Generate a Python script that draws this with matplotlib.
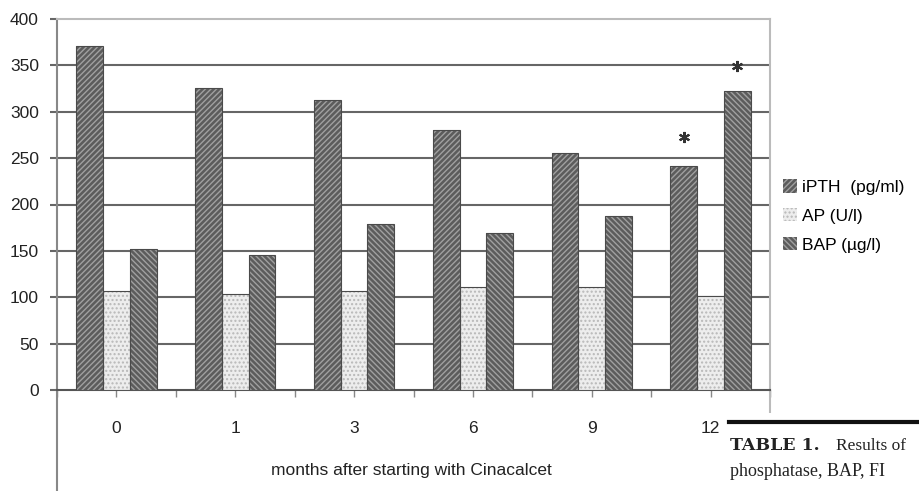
import numpy as np
import matplotlib
matplotlib.use("Agg")
import matplotlib.pyplot as plt
from matplotlib.patches import Rectangle
from matplotlib.lines import Line2D

plt.rcParams['font.family'] = ['Liberation Sans', 'DejaVu Sans']
plt.rcParams['hatch.linewidth'] = 1.0

months = ['0', '1', '3', '6', '9', '12']
ipth = [371, 326, 313, 280, 255, 241]
ap = [107, 103, 107, 111, 111, 101]
bap = [152, 146, 179, 169, 188, 322]
series_names = ['iPTH  (pg/ml)', 'AP (U/l)', 'BAP (µg/l)']
# significance markers: (group index, series offset, height)
stars = [(5, -1, 273), (5, 1, 349)]

fig = plt.figure(figsize=(9.19, 4.91), dpi=100)
W, H = 919, 491
ax = fig.add_axes([57 / W, 1 - 390 / H, (770 - 57) / W, (390 - 19) / H])

x = np.arange(len(months))
bw = 0.225
styles = [
    dict(face='#5c5c5c', hatch='//////', hcol='#a0a0a0'),
    dict(face='#ededed', hatch='....', hcol='#b8b8b8'),
    dict(face='#5c5c5c', hatch='\\\\\\\\\\\\', hcol='#a0a0a0'),
]
handles = []
for i, (vals, st) in enumerate(zip([ipth, ap, bap], styles)):
    pos = x + (i - 1) * bw
    b = ax.bar(pos, vals, bw, color=st['face'], hatch=st['hatch'],
               edgecolor=st['hcol'], linewidth=0, zorder=3)
    ax.bar(pos, vals, bw, fill=False, edgecolor='#4a4a4a', linewidth=0.8, zorder=4)
    handles.append(b)

for gi, off, h in stars:
    ax.plot(x[gi] + off * bw, h, marker=(6, 2, 0), markersize=8,
            markeredgewidth=1.5, color='#333333', zorder=5, clip_on=False)

ax.set_xlim(-0.5, 5.5)
ax.set_ylim(0, 400)
ax.set_yticks(np.arange(0, 401, 50))
ax.set_xticks(x)
ax.set_xticklabels(months)
ax.set_xticks(np.arange(-0.5, 6, 1), minor=True)
ax.tick_params(axis='y', length=5, width=1.5, color='#666666', labelsize=12.5,
               labelcolor='#222222', pad=8)
ax.tick_params(axis='x', which='both', length=5, width=1.0, color='#888888',
               labelsize=12.5, labelcolor='#222222', pad=17)

for yv in np.arange(50, 351, 50):
    ax.axhline(yv, color='#666666', linewidth=1.5, zorder=1)

for side in ['top', 'right']:
    ax.spines[side].set_color('#bbbbbb')
    ax.spines[side].set_linewidth(1.5)
ax.spines['left'].set_color('#888888')
ax.spines['left'].set_linewidth(1.5)
ax.spines['bottom'].set_color('#555555')
ax.spines['bottom'].set_linewidth(1.5)

# frame lines running down past the category axis
ax.add_line(Line2D([0, 0], [0, -0.35], transform=ax.transAxes, clip_on=False,
                   color='#888888', linewidth=1.5))
ax.add_line(Line2D([1, 1], [0, -0.35], transform=ax.transAxes, clip_on=False,
                   color='#bbbbbb', linewidth=1.5))

fig.text(411 / W, 1 - 470 / H, 'months after starting with Cinacalcet',
         ha='center', va='center', fontsize=12.5, color='#222222')

fig.legend(handles, series_names, loc='center left',
           bbox_to_anchor=(776 / W, 1 - 216 / H), frameon=False,
           fontsize=12.5, handlelength=0.8, handleheight=0.8,
           handletextpad=0.3, labelspacing=0.75, borderaxespad=0)

# caption block of the facing page
fig.add_artist(Rectangle((726 / W, 0), 1, 1 - 413 / H, transform=fig.transFigure,
                         facecolor='white', edgecolor='none', zorder=10))
fig.add_artist(Line2D([729 / W, 1], [1 - 422 / H, 1 - 422 / H],
                      transform=fig.transFigure, color='#111111', linewidth=3,
                      zorder=11))
fig.text(730 / W, 1 - 446 / H, 'TABLE 1.', fontsize=12.5, fontweight='bold',
         family=['DejaVu Serif'], color='#222222', va='center', zorder=12)
fig.text(836 / W, 1 - 446 / H, 'Results of', fontsize=12.5,
         family=['Liberation Serif', 'DejaVu Serif'], color='#222222',
         va='center', zorder=12)
fig.text(730 / W, 1 - 471 / H, 'phosphatase, BAP, FI', fontsize=13,
         family=['Liberation Serif', 'DejaVu Serif'], color='#222222',
         va='center', zorder=12)

fig.savefig('out.png', dpi=100)
